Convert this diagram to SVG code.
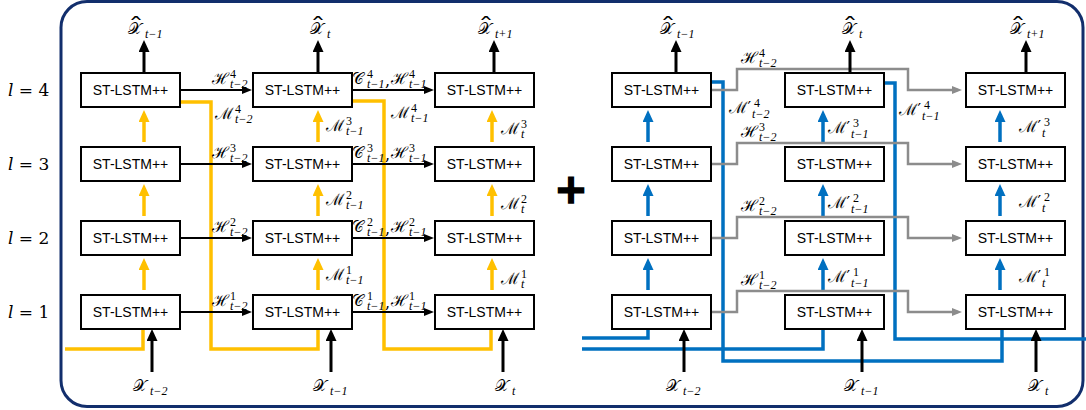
<svg xmlns="http://www.w3.org/2000/svg" width="1086" height="410" viewBox="0 0 1086 410">
<style>
.box{fill:#fff;stroke:#000;stroke-width:2}
.bt{font-family:"Liberation Sans",Arial,sans-serif;font-size:14px;text-anchor:middle;fill:#000}
.m{font-family:"DejaVu Serif","Noto Sans",serif;font-size:16px;fill:#000}
.sc{font-family:"Liberation Serif",serif;font-size:12px}
.i{font-style:italic}
.hat{font-family:"DejaVu Serif",serif;font-size:20px}
.lv{font-family:"DejaVu Serif",serif;font-size:17px;fill:#000}
.ok{fill:none;stroke:#000;stroke-width:3}
.th{fill:none;stroke:#000;stroke-width:2}
.y{fill:none;stroke:#FFC000;stroke-width:3.5}
.b{fill:none;stroke:#0070C0;stroke-width:3.5}
.g{fill:none;stroke:#8C8C8C;stroke-width:2.5}
</style>
<defs>
<marker id="aK" viewBox="0 0 12 11" markerWidth="12" markerHeight="11" refX="8" refY="5.5" orient="auto" markerUnits="userSpaceOnUse"><path d="M0,0 L12,5.5 L0,11 z" fill="#000"/></marker>
<marker id="aY" viewBox="0 0 12 11" markerWidth="12" markerHeight="11" refX="8" refY="5.5" orient="auto" markerUnits="userSpaceOnUse"><path d="M0,0 L12,5.5 L0,11 z" fill="#FFC000"/></marker>
<marker id="aB" viewBox="0 0 12 11" markerWidth="12" markerHeight="11" refX="8" refY="5.5" orient="auto" markerUnits="userSpaceOnUse"><path d="M0,0 L12,5.5 L0,11 z" fill="#0070C0"/></marker>
<marker id="aT" viewBox="0 0 10 8" markerWidth="10" markerHeight="8" refX="6" refY="4" orient="auto" markerUnits="userSpaceOnUse"><path d="M0,0 L10,4 L0,8 z" fill="#000"/></marker>
<marker id="aG" viewBox="0 0 10 8" markerWidth="10" markerHeight="8" refX="6" refY="4" orient="auto" markerUnits="userSpaceOnUse"><path d="M0,0 L10,4 L0,8 z" fill="#8C8C8C"/></marker>
</defs>
<rect x="61" y="1.5" width="1022" height="405" rx="26" fill="none" stroke="#122E6C" stroke-width="3"/>

<g id="levels">
<text class="lv" x="8" y="96"><tspan font-style="italic">l</tspan> = 4</text>
<text class="lv" x="8" y="170"><tspan font-style="italic">l</tspan> = 3</text>
<text class="lv" x="8" y="244"><tspan font-style="italic">l</tspan> = 2</text>
<text class="lv" x="8" y="318"><tspan font-style="italic">l</tspan> = 1</text>
</g>

<g id="connectors">
<path class="y" d="M65,349 H143 V329"/>
<path class="y" d="M180,102 H211 V349 H318 V329"/>
<path class="y" d="M352,101 H384 V349 H491 V329"/>
<g>
<line class="y" x1="144" y1="290" x2="144" y2="262" marker-end="url(#aY)"/>
<line class="y" x1="144" y1="216" x2="144" y2="188" marker-end="url(#aY)"/>
<line class="y" x1="144" y1="142" x2="144" y2="114" marker-end="url(#aY)"/>
<line class="y" x1="318" y1="290" x2="318" y2="262" marker-end="url(#aY)"/>
<line class="y" x1="318" y1="216" x2="318" y2="188" marker-end="url(#aY)"/>
<line class="y" x1="318" y1="142" x2="318" y2="114" marker-end="url(#aY)"/>
<line class="y" x1="492" y1="290" x2="492" y2="262" marker-end="url(#aY)"/>
<line class="y" x1="492" y1="216" x2="492" y2="188" marker-end="url(#aY)"/>
<line class="y" x1="492" y1="142" x2="492" y2="114" marker-end="url(#aY)"/>
</g>
<g>
<line class="th" x1="180" y1="90" x2="248" y2="90" marker-end="url(#aT)"/>
<line class="th" x1="180" y1="164" x2="248" y2="164" marker-end="url(#aT)"/>
<line class="th" x1="180" y1="238" x2="248" y2="238" marker-end="url(#aT)"/>
<line class="th" x1="180" y1="312" x2="248" y2="312" marker-end="url(#aT)"/>
<line class="th" x1="352" y1="90" x2="430" y2="90" marker-end="url(#aT)"/>
<line class="th" x1="352" y1="164" x2="430" y2="164" marker-end="url(#aT)"/>
<line class="th" x1="352" y1="238" x2="430" y2="238" marker-end="url(#aT)"/>
<line class="th" x1="352" y1="312" x2="430" y2="312" marker-end="url(#aT)"/>
</g>
<path class="b" d="M582,338 H648 V329"/>
<path class="b" d="M582,349 H823 V329"/>
<path class="b" d="M711,82 H723 V361 H1002 V329"/>
<path class="b" d="M884,83 H895 V339 H1086"/>
<g>
<line class="b" x1="648" y1="290" x2="648" y2="262" marker-end="url(#aB)"/>
<line class="b" x1="648" y1="216" x2="648" y2="188" marker-end="url(#aB)"/>
<line class="b" x1="648" y1="142" x2="648" y2="114" marker-end="url(#aB)"/>
<line class="b" x1="823" y1="290" x2="823" y2="262" marker-end="url(#aB)"/>
<line class="b" x1="823" y1="216" x2="823" y2="188" marker-end="url(#aB)"/>
<line class="b" x1="823" y1="142" x2="823" y2="114" marker-end="url(#aB)"/>
<line class="b" x1="1000" y1="290" x2="1000" y2="262" marker-end="url(#aB)"/>
<line class="b" x1="1000" y1="216" x2="1000" y2="188" marker-end="url(#aB)"/>
<line class="b" x1="1000" y1="142" x2="1000" y2="114" marker-end="url(#aB)"/>
</g>
<path class="g" d="M711,90 H737 V69 H908 V90 H958" marker-end="url(#aG)"/>
<path class="g" d="M711,164 H737 V143 H908 V164 H958" marker-end="url(#aG)"/>
<path class="g" d="M711,238 H737 V217 H908 V238 H958" marker-end="url(#aG)"/>
<path class="g" d="M711,312 H737 V291 H908 V312 H958" marker-end="url(#aG)"/>
<g>
<line class="ok" x1="144" y1="73" x2="144" y2="44" marker-end="url(#aK)"/>
<line class="ok" x1="318" y1="73" x2="318" y2="44" marker-end="url(#aK)"/>
<line class="ok" x1="494" y1="73" x2="494" y2="44" marker-end="url(#aK)"/>
<line class="ok" x1="676" y1="73" x2="676" y2="44" marker-end="url(#aK)"/>
<line class="ok" x1="850" y1="73" x2="850" y2="44" marker-end="url(#aK)"/>
<line class="ok" x1="1026" y1="73" x2="1026" y2="44" marker-end="url(#aK)"/>
</g>
<g>
<line class="ok" x1="152" y1="372" x2="152" y2="333" marker-end="url(#aK)"/>
<line class="ok" x1="331" y1="372" x2="331" y2="333" marker-end="url(#aK)"/>
<line class="ok" x1="503" y1="372" x2="503" y2="333" marker-end="url(#aK)"/>
<line class="ok" x1="684" y1="372" x2="684" y2="333" marker-end="url(#aK)"/>
<line class="ok" x1="862" y1="372" x2="862" y2="333" marker-end="url(#aK)"/>
<line class="ok" x1="1036" y1="372" x2="1036" y2="333" marker-end="url(#aK)"/>
</g>
</g>

<g id="L-c1-r4"><rect class="box" x="81" y="73" width="99" height="34"/><text class="bt" x="130.5" y="95">ST-LSTM++</text></g>
<g id="L-c1-r3"><rect class="box" x="81" y="147" width="99" height="34"/><text class="bt" x="130.5" y="169">ST-LSTM++</text></g>
<g id="L-c1-r2"><rect class="box" x="81" y="221" width="99" height="34"/><text class="bt" x="130.5" y="243">ST-LSTM++</text></g>
<g id="L-c1-r1"><rect class="box" x="81" y="295" width="99" height="34"/><text class="bt" x="130.5" y="317">ST-LSTM++</text></g>
<g id="L-c2-r4"><rect class="box" x="253" y="73" width="99" height="34"/><text class="bt" x="302.5" y="95">ST-LSTM++</text></g>
<g id="L-c2-r3"><rect class="box" x="253" y="147" width="99" height="34"/><text class="bt" x="302.5" y="169">ST-LSTM++</text></g>
<g id="L-c2-r2"><rect class="box" x="253" y="221" width="99" height="34"/><text class="bt" x="302.5" y="243">ST-LSTM++</text></g>
<g id="L-c2-r1"><rect class="box" x="253" y="295" width="99" height="34"/><text class="bt" x="302.5" y="317">ST-LSTM++</text></g>
<g id="L-c3-r4"><rect class="box" x="435" y="73" width="99" height="34"/><text class="bt" x="484.5" y="95">ST-LSTM++</text></g>
<g id="L-c3-r3"><rect class="box" x="435" y="147" width="99" height="34"/><text class="bt" x="484.5" y="169">ST-LSTM++</text></g>
<g id="L-c3-r2"><rect class="box" x="435" y="221" width="99" height="34"/><text class="bt" x="484.5" y="243">ST-LSTM++</text></g>
<g id="L-c3-r1"><rect class="box" x="435" y="295" width="99" height="34"/><text class="bt" x="484.5" y="317">ST-LSTM++</text></g>
<g id="R-c1-r4"><rect class="box" x="612" y="73" width="99" height="34"/><text class="bt" x="661.5" y="95">ST-LSTM++</text></g>
<g id="R-c1-r3"><rect class="box" x="612" y="147" width="99" height="34"/><text class="bt" x="661.5" y="169">ST-LSTM++</text></g>
<g id="R-c1-r2"><rect class="box" x="612" y="221" width="99" height="34"/><text class="bt" x="661.5" y="243">ST-LSTM++</text></g>
<g id="R-c1-r1"><rect class="box" x="612" y="295" width="99" height="34"/><text class="bt" x="661.5" y="317">ST-LSTM++</text></g>
<g id="R-c2-r4"><rect class="box" x="785" y="73" width="99" height="34"/><text class="bt" x="834.5" y="95">ST-LSTM++</text></g>
<g id="R-c2-r3"><rect class="box" x="785" y="147" width="99" height="34"/><text class="bt" x="834.5" y="169">ST-LSTM++</text></g>
<g id="R-c2-r2"><rect class="box" x="785" y="221" width="99" height="34"/><text class="bt" x="834.5" y="243">ST-LSTM++</text></g>
<g id="R-c2-r1"><rect class="box" x="785" y="295" width="99" height="34"/><text class="bt" x="834.5" y="317">ST-LSTM++</text></g>
<g id="R-c3-r4"><rect class="box" x="966" y="73" width="99" height="34"/><text class="bt" x="1015.5" y="95">ST-LSTM++</text></g>
<g id="R-c3-r3"><rect class="box" x="966" y="147" width="99" height="34"/><text class="bt" x="1015.5" y="169">ST-LSTM++</text></g>
<g id="R-c3-r2"><rect class="box" x="966" y="221" width="99" height="34"/><text class="bt" x="1015.5" y="243">ST-LSTM++</text></g>
<g id="R-c3-r1"><rect class="box" x="966" y="295" width="99" height="34"/><text class="bt" x="1015.5" y="317">ST-LSTM++</text></g>

<g id="plus"><text x="571" y="203" font-family="DejaVu Sans,sans-serif" font-weight="bold" font-size="40" text-anchor="middle" stroke="#000" stroke-width="1.5">+</text></g>

<g id="labels">
<!-- outputs -->
<text class="m" x="128" y="34">𝒳<tspan class="hat" x="128" y="33" textLength="16" lengthAdjust="spacingAndGlyphs">ˆ</tspan><tspan class="sc i" x="145" y="38">t−1</tspan></text>
<text class="m" x="310" y="34">𝒳<tspan class="hat" x="310" y="33" textLength="16" lengthAdjust="spacingAndGlyphs">ˆ</tspan><tspan class="sc i" x="327" y="38">t</tspan></text>
<text class="m" x="478" y="34">𝒳<tspan class="hat" x="478" y="33" textLength="16" lengthAdjust="spacingAndGlyphs">ˆ</tspan><tspan class="sc i" x="495" y="38">t+1</tspan></text>
<text class="m" x="660" y="34">𝒳<tspan class="hat" x="660" y="33" textLength="16" lengthAdjust="spacingAndGlyphs">ˆ</tspan><tspan class="sc i" x="677" y="38">t−1</tspan></text>
<text class="m" x="842" y="34">𝒳<tspan class="hat" x="842" y="33" textLength="16" lengthAdjust="spacingAndGlyphs">ˆ</tspan><tspan class="sc i" x="859" y="38">t</tspan></text>
<text class="m" x="1010" y="34">𝒳<tspan class="hat" x="1010" y="33" textLength="16" lengthAdjust="spacingAndGlyphs">ˆ</tspan><tspan class="sc i" x="1027" y="38">t+1</tspan></text>
<!-- inputs -->
<text class="m" x="133" y="391">𝒳<tspan class="sc i" x="150" y="395">t−2</tspan></text>
<text class="m" x="313" y="391">𝒳<tspan class="sc i" x="330" y="395">t−1</tspan></text>
<text class="m" x="495" y="391">𝒳<tspan class="sc i" x="512" y="395">t</tspan></text>
<text class="m" x="666" y="391">𝒳<tspan class="sc i" x="683" y="395">t−2</tspan></text>
<text class="m" x="844" y="391">𝒳<tspan class="sc i" x="861" y="395">t−1</tspan></text>
<text class="m" x="1028" y="391">𝒳<tspan class="sc i" x="1045" y="395">t</tspan></text>
<!-- left: H t-2 -->
<text class="m" x="212" y="84">ℋ<tspan class="sc" x="230" y="78">4</tspan><tspan class="sc i" x="230" y="88">t−2</tspan></text>
<text class="m" x="212" y="158">ℋ<tspan class="sc" x="230" y="152">3</tspan><tspan class="sc i" x="230" y="162">t−2</tspan></text>
<text class="m" x="212" y="232">ℋ<tspan class="sc" x="230" y="226">2</tspan><tspan class="sc i" x="230" y="236">t−2</tspan></text>
<text class="m" x="212" y="306">ℋ<tspan class="sc" x="230" y="300">1</tspan><tspan class="sc i" x="230" y="310">t−2</tspan></text>
<text class="m" x="215" y="119">ℳ<tspan class="sc" x="235" y="113">4</tspan><tspan class="sc i" x="235" y="123">t−2</tspan></text>
<!-- left: C,H t-1 -->
<text class="m" x="352" y="84">𝒞<tspan class="sc" x="367" y="78">4</tspan><tspan class="sc i" x="367" y="88">t−1</tspan><tspan x="385" y="86">,</tspan><tspan x="391" y="84">ℋ</tspan><tspan class="sc" x="409" y="78">4</tspan><tspan class="sc i" x="409" y="88">t−1</tspan></text>
<text class="m" x="352" y="158">𝒞<tspan class="sc" x="367" y="152">3</tspan><tspan class="sc i" x="367" y="162">t−1</tspan><tspan x="385" y="160">,</tspan><tspan x="391" y="158">ℋ</tspan><tspan class="sc" x="409" y="152">3</tspan><tspan class="sc i" x="409" y="162">t−1</tspan></text>
<text class="m" x="352" y="232">𝒞<tspan class="sc" x="367" y="226">2</tspan><tspan class="sc i" x="367" y="236">t−1</tspan><tspan x="385" y="234">,</tspan><tspan x="391" y="232">ℋ</tspan><tspan class="sc" x="409" y="226">2</tspan><tspan class="sc i" x="409" y="236">t−1</tspan></text>
<text class="m" x="352" y="306">𝒞<tspan class="sc" x="367" y="300">1</tspan><tspan class="sc i" x="367" y="310">t−1</tspan><tspan x="385" y="308">,</tspan><tspan x="391" y="306">ℋ</tspan><tspan class="sc" x="409" y="300">1</tspan><tspan class="sc i" x="409" y="310">t−1</tspan></text>
<text class="m" x="391" y="118">ℳ<tspan class="sc" x="411" y="112">4</tspan><tspan class="sc i" x="411" y="122">t−1</tspan></text>
<!-- left: M t-1 -->
<text class="m" x="326" y="131">ℳ<tspan class="sc" x="346" y="125">3</tspan><tspan class="sc i" x="346" y="135">t−1</tspan></text>
<text class="m" x="326" y="205">ℳ<tspan class="sc" x="346" y="199">2</tspan><tspan class="sc i" x="346" y="209">t−1</tspan></text>
<text class="m" x="326" y="280">ℳ<tspan class="sc" x="346" y="274">1</tspan><tspan class="sc i" x="346" y="284">t−1</tspan></text>
<!-- left: M t -->
<text class="m" x="501" y="134">ℳ<tspan class="sc" x="521" y="128">3</tspan><tspan class="sc i" x="521" y="138">t</tspan></text>
<text class="m" x="501" y="209">ℳ<tspan class="sc" x="521" y="203">2</tspan><tspan class="sc i" x="521" y="213">t</tspan></text>
<text class="m" x="501" y="284">ℳ<tspan class="sc" x="521" y="278">1</tspan><tspan class="sc i" x="521" y="288">t</tspan></text>
<!-- right: H t-2 -->
<text class="m" x="741" y="63">ℋ<tspan class="sc" x="759" y="57">4</tspan><tspan class="sc i" x="759" y="67">t−2</tspan></text>
<text class="m" x="741" y="137">ℋ<tspan class="sc" x="759" y="131">3</tspan><tspan class="sc i" x="759" y="141">t−2</tspan></text>
<text class="m" x="741" y="211">ℋ<tspan class="sc" x="759" y="205">2</tspan><tspan class="sc i" x="759" y="215">t−2</tspan></text>
<text class="m" x="741" y="285">ℋ<tspan class="sc" x="759" y="279">1</tspan><tspan class="sc i" x="759" y="289">t−2</tspan></text>
<!-- right: M' -->
<text class="m" x="729" y="113">ℳ′<tspan class="sc" x="754" y="107">4</tspan><tspan class="sc i" x="752" y="118">t−2</tspan></text>
<text class="m" x="899" y="115">ℳ′<tspan class="sc" x="924" y="109">4</tspan><tspan class="sc i" x="922" y="120">t−1</tspan></text>
<text class="m" x="828" y="133">ℳ′<tspan class="sc" x="853" y="127">3</tspan><tspan class="sc i" x="851" y="138">t−1</tspan></text>
<text class="m" x="828" y="208">ℳ′<tspan class="sc" x="853" y="202">2</tspan><tspan class="sc i" x="851" y="213">t−1</tspan></text>
<text class="m" x="828" y="282">ℳ′<tspan class="sc" x="853" y="276">1</tspan><tspan class="sc i" x="851" y="287">t−1</tspan></text>
<text class="m" x="1019" y="132">ℳ′<tspan class="sc" x="1044" y="126">3</tspan><tspan class="sc i" x="1042" y="137">t</tspan></text>
<text class="m" x="1019" y="207">ℳ′<tspan class="sc" x="1044" y="201">2</tspan><tspan class="sc i" x="1042" y="212">t</tspan></text>
<text class="m" x="1019" y="282">ℳ′<tspan class="sc" x="1044" y="276">1</tspan><tspan class="sc i" x="1042" y="287">t</tspan></text>
</g>
</svg>
